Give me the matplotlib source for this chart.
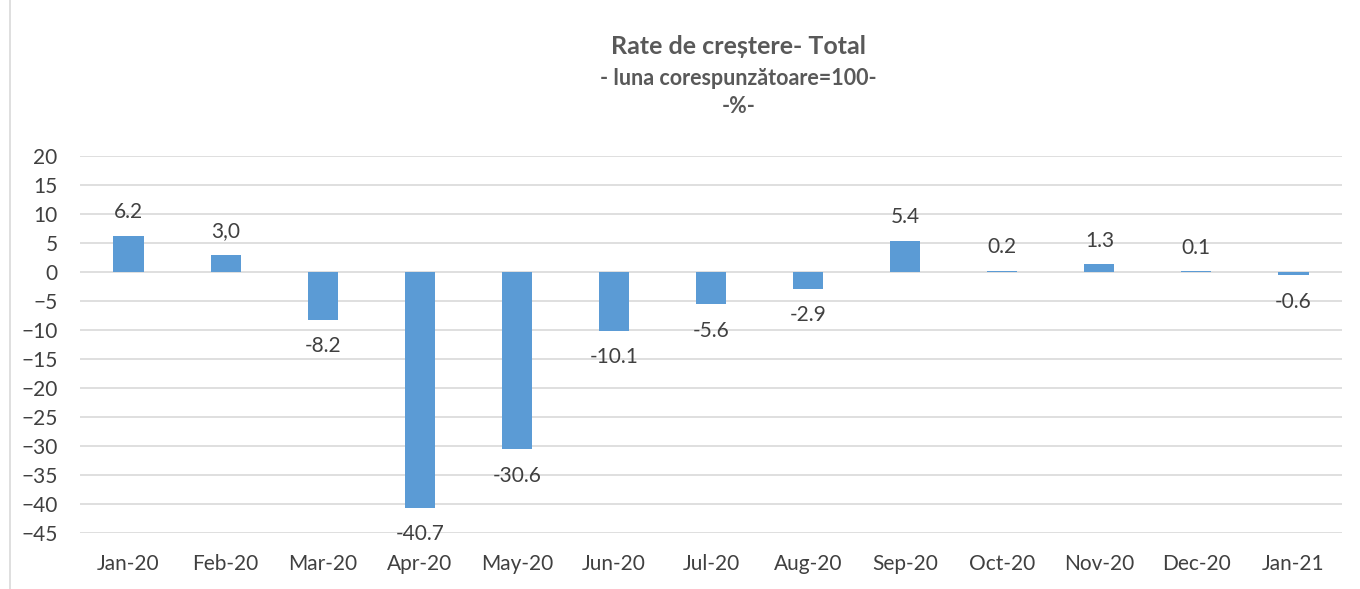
import matplotlib
matplotlib.use("Agg")
import matplotlib.pyplot as plt
from matplotlib.lines import Line2D

months = ["Jan-20", "Feb-20", "Mar-20", "Apr-20", "May-20", "Jun-20", "Jul-20",
          "Aug-20", "Sep-20", "Oct-20", "Nov-20", "Dec-20", "Jan-21"]
values = [6.2, 3.0, -8.2, -40.7, -30.6, -10.1, -5.6, -2.9, 5.4, 0.2, 1.3, 0.1, -0.6]
labels = ["6.2", "3,0", "-8.2", "-40.7", "-30.6", "-10.1", "-5.6", "-2.9",
          "5.4", "0.2", "1.3", "0.1", "-0.6"]
yticks = list(range(-45, 21, 5))

plt.rcParams["font.family"] = ["Lato", "DejaVu Sans"]
TXT = "#404040"
BAR = "#5b9bd5"
GRID = "#d9d9d9"

fig = plt.figure(figsize=(13.6, 5.89), dpi=100)
ax = fig.add_axes([0.0588, 0.0951, 0.928, 0.640])

x = list(range(len(months)))
ax.bar(x, values, width=0.31, color=BAR, zorder=3)
for xi, v, lab in zip(x, values, labels):
    off = 17 if v >= 0 else -19
    ax.annotate(lab, (xi, v), xytext=(0, off), textcoords="offset points",
                ha="center", va="center", fontsize=15, color=TXT, zorder=4)

ax.set_xlim(-0.5, len(months) - 0.5)
ax.set_ylim(-45, 20)
ax.set_yticks(yticks)
ax.set_xticks(x)
ax.set_xticklabels(months)
ax.tick_params(axis="both", length=0, labelsize=15, labelcolor=TXT)
ax.tick_params(axis="y", pad=16)
ax.tick_params(axis="x", pad=15)
ax.grid(axis="y", color=GRID, linewidth=1.2, zorder=0)
for s in ax.spines.values():
    s.set_visible(False)

fig.text(0.543, 0.921, "Rate de creștere- Total", ha="center", va="center",
         fontsize=18, fontweight="bold", color="#595959")
fig.text(0.543, 0.866, "- luna corespunzătoare=100-", ha="center", va="center",
         fontsize=15.5, fontweight="bold", color="#595959")
fig.text(0.543, 0.820, "-%-", ha="center", va="center",
         fontsize=15.5, fontweight="bold", color="#595959")

fig.add_artist(Line2D([0.0074, 0.0074], [0, 1], transform=fig.transFigure,
                      color=GRID, linewidth=1.2))

fig.savefig("out.png", dpi=100)
